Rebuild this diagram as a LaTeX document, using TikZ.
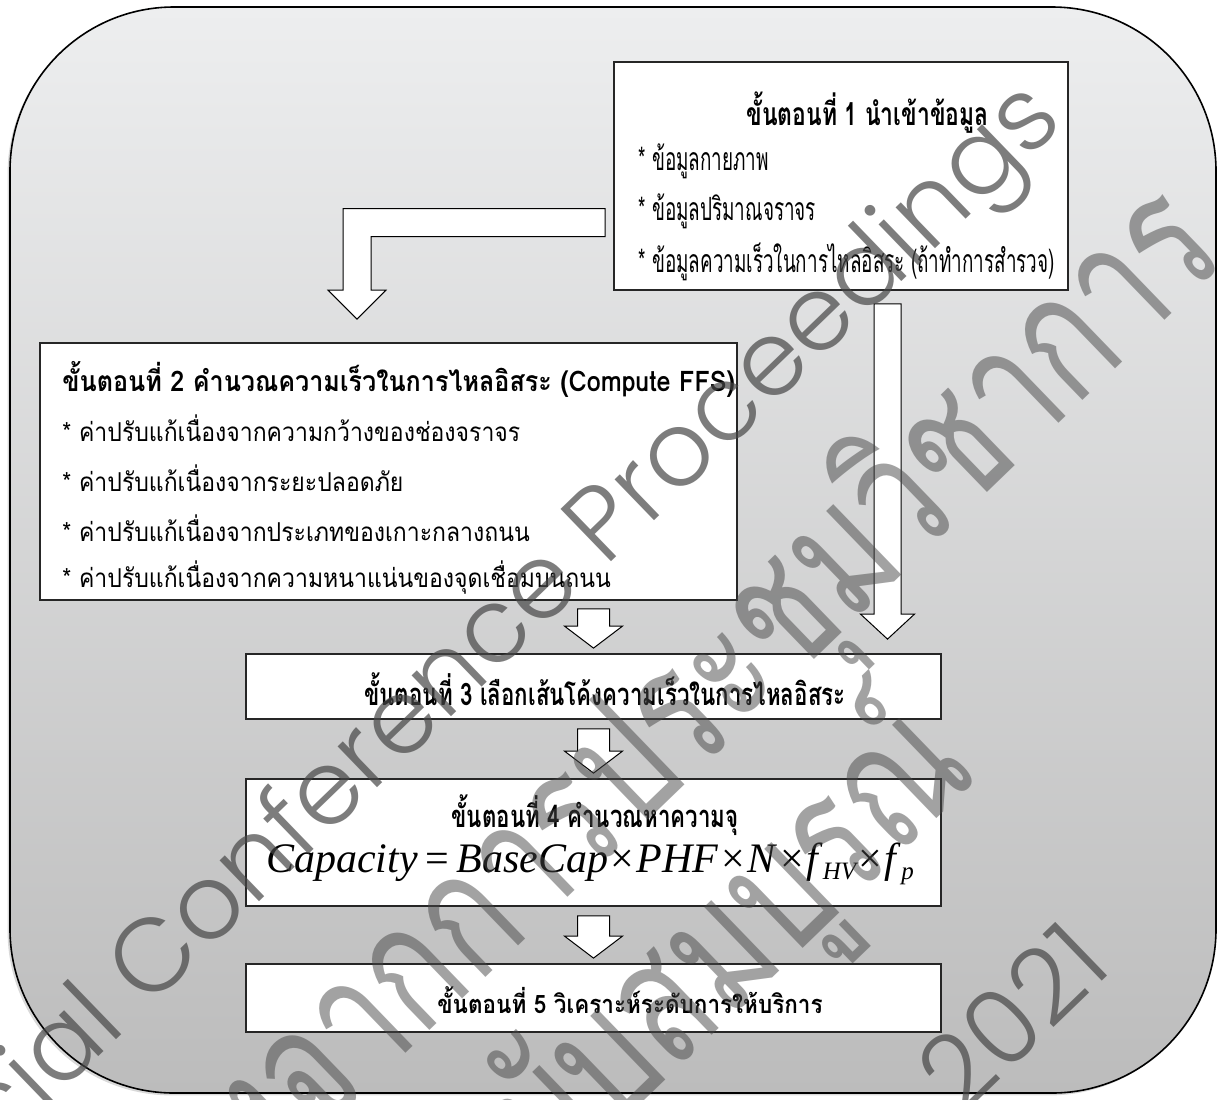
\documentclass[tikz,border=0pt]{standalone}
\usepackage{fontspec}
\usetikzlibrary{calc,shadows}
\newfontfamily\thaifont[Script=Thai,FakeStretch=0.885]{Loma}
\newfontfamily\thainarrow[Script=Thai,FakeStretch=0.72]{Loma}
\newfontfamily\thaicondensed[Script=Thai,FakeStretch=0.59]{Loma}
\IfFontExistsTF{Poppins Light}
  {\newfontfamily\markfont{Poppins Light}}
  {\newfontfamily\markfont{Poppins}}
\newfontfamily\markthai[Script=Thai,FakeStretch=0.72]{Loma}
\newfontfamily\formulafont{Liberation Serif}

\definecolor{panetop}{RGB}{237,238,239}
\definecolor{panebot}{RGB}{188,188,188}
\definecolor{markgray}{RGB}{70,70,70}

% one arrow shaft running down from #1 to the tip #2
\newcommand\blockdown[5]{%
  \draw[blockarrow] let \p1=#1, \p2=#2 in
    (\x2-#3,\y1) -- (\x2+#3,\y1) -- (\x2+#3,\y2+#5) -- (\x2+#4,\y2+#5)
    -- (\x2,\y2) -- (\x2-#4,\y2+#5) -- (\x2-#3,\y2+#5) -- cycle;}

\tikzset{
  panel/.style={draw=black, line width=0.8pt, rounded corners=82pt,
    top color=panetop, bottom color=panebot,
    drop shadow={shadow xshift=-1.2pt, shadow yshift=-1.2pt, opacity=0.3}},
  stepbox/.style={draw=black!85, line width=0.9pt, fill=white, inner sep=0pt},
  blockarrow/.style={draw=black, line width=0.5pt, fill=white, line join=miter},
  titlenarrow/.style={inner sep=0pt, font=\thainarrow\bfseries\fontsize{15.5}{18}\selectfont},
  itemnarrow/.style={anchor=west, inner sep=0pt, font=\thaicondensed\fontsize{16}{19}\selectfont},
  titlewide/.style={inner sep=0pt, font=\thaifont\bfseries\fontsize{14.2}{17}\selectfont},
  itemwide/.style={anchor=west, inner sep=0pt, font=\thaifont\fontsize{13}{16}\selectfont},
  formula/.style={inner sep=0pt, font=\formulafont\fontsize{21}{25}\selectfont},
  markline/.style={inner sep=0pt, anchor=base east, rotate=44, text=markgray, opacity=0.7,
    font=\markfont\fontsize{52}{60}\selectfont},
  markthailine/.style={markline, opacity=0.5, font=\markthai\fontsize{88}{96}\selectfont},
}

\newcommand\eqgap{\hspace{0.18em}}
\newcommand\opgap{\hspace{0.06em}}

\begin{document}
\begin{tikzpicture}[x=0.5pt,y=-0.5pt]
\useasboundingbox (0,0) rectangle (1221,1099);

% background panel
\node[panel, minimum width=603pt, minimum height=543pt] (panel) at (613,550) {};

% process steps
\node[stepbox, minimum width=227pt, minimum height=114pt] (b1) at (841,176) {};
\node[stepbox, minimum width=348.5pt, minimum height=128.5pt] (b2) at (388.5,471.5) {};
\node[stepbox, minimum width=347.5pt, minimum height=32.5pt] (b3) at (593.5,686.5) {};
\node[stepbox, minimum width=347.5pt, minimum height=63.5pt] (b4) at (593.5,842.5) {};
\node[stepbox, minimum width=347.5pt, minimum height=34pt] (b5) at (593.5,998) {};

% guide lines for the arrows
\coordinate (lrow) at (0,222.5);
\coordinate (lcol) at (357,0);
\coordinate (rcol) at (887.5,0);

% step 1 -> step 2 (bent arrow)
\draw[blockarrow] let \p1=($(b1.west |- lrow)+(-8,0)$), \p2=($(b2.north -| lcol)+(0,-23)$) in
  (\x1,\y1+7pt) -- (\x2-7pt,\y1+7pt) -- (\x2-7pt,\y2+14.5pt) -- (\x2-14.5pt,\y2+14.5pt)
  -- (\x2,\y2) -- (\x2+14.5pt,\y2+14.5pt) -- (\x2+7pt,\y2+14.5pt) -- (\x2+7pt,\y1-7pt)
  -- (\x1,\y1-7pt) -- cycle;

% step 1 -> step 3 (long arrow)
\blockdown{($(b1.south -| rcol)+(0,13)$)}{($(b3.north -| rcol)+(0,-14)$)}{6.75pt}{13.5pt}{12.5pt}

% short arrows between the lower steps
\blockdown{($(b2.south -| b3.north)+(0,8)$)}{($(b3.north)+(0,-5)$)}{8pt}{14.5pt}{11pt}
\blockdown{($(b3.south)+(0,9)$)}{($(b4.north)+(0,-5)$)}{8pt}{14.5pt}{11pt}
\blockdown{($(b4.south)+(0,9)$)}{($(b5.north)+(0,-5)$)}{8pt}{14.5pt}{11pt}

% step texts
\node[titlenarrow, anchor=west, font=\thainarrow\bfseries\fontsize{15.9}{19}\selectfont] (t1) at (746,113) {ขั้นตอนที่ 1 นำเข้าข้อมูล};
\node[itemnarrow] (i1a) at (638,161) {* ข้อมูลกายภาพ};
\node[itemnarrow] (i1b) at (638,211) {* ข้อมูลปริมาณจราจร};
\node[itemnarrow] (i1c) at (638,262) {* ข้อมูลความเร็วในการไหลอิสระ (ถ้าทำการสำรวจ)};

\node[titlewide, anchor=west] (t2) at (62,379) {ขั้นตอนที่ 2 คำนวณความเร็วในการไหลอิสระ (Compute FFS)};
\node[itemwide] (i2a) at (62,428) {* ค่าปรับแก้เนื่องจากความกว้างของช่องจราจร};
\node[itemwide] (i2b) at (62,478) {* ค่าปรับแก้เนื่องจากระยะปลอดภัย};
\node[itemwide] (i2c) at (62,528) {* ค่าปรับแก้เนื่องจากประเภทของเกาะกลางถนน};
\node[itemwide] (i2d) at (62,578) {* ค่าปรับแก้เนื่องจากความหนาแน่นของจุดเชื่อมบนถนน};

\node[titlenarrow] (t3) at (605,689) {ขั้นตอนที่ 3 เลือกเส้นโค้งความเร็วในการไหลอิสระ};
\node[titlenarrow] (t4) at (595,815) {ขั้นตอนที่ 4 คำนวณหาความจุ};
\node[formula] (f4) at (590,864)
  {\itshape Capacity\/\eqgap\upshape=\eqgap\itshape BaseCap\/\opgap\upshape×\opgap\itshape PHF\/\opgap\upshape×\opgap\itshape N\/\opgap\upshape×\opgap\itshape f\/\raisebox{-0.4ex}{\fontsize{12.5}{15}\selectfont HV}\opgap\upshape×\opgap\itshape f\/\raisebox{-0.4ex}{\fontsize{12.5}{15}\selectfont p}};
\node[titlewide, font=\thaifont\bfseries\fontsize{12.7}{15}\selectfont] (t5) at (630,1000) {ขั้นตอนที่ 5 วิเคราะห์ระดับการให้บริการ};

% overprinted watermark
\begin{scope}
\clip (0,0) rectangle (1221,1099);
\node[markline] (wm1) at (1066,123) {Official Conference Proceedings};
\node[markthailine] (wm2) at (1230,258) {เอกสารสืบเนื่องจากการประชุมวิชาการ};
\node[markthailine] (wm3) at (980,777) {ฉบับสมบูรณ์};
\node[markline] (wm4) at (1115,969) {2021};
\end{scope}
\end{tikzpicture}
\end{document}
